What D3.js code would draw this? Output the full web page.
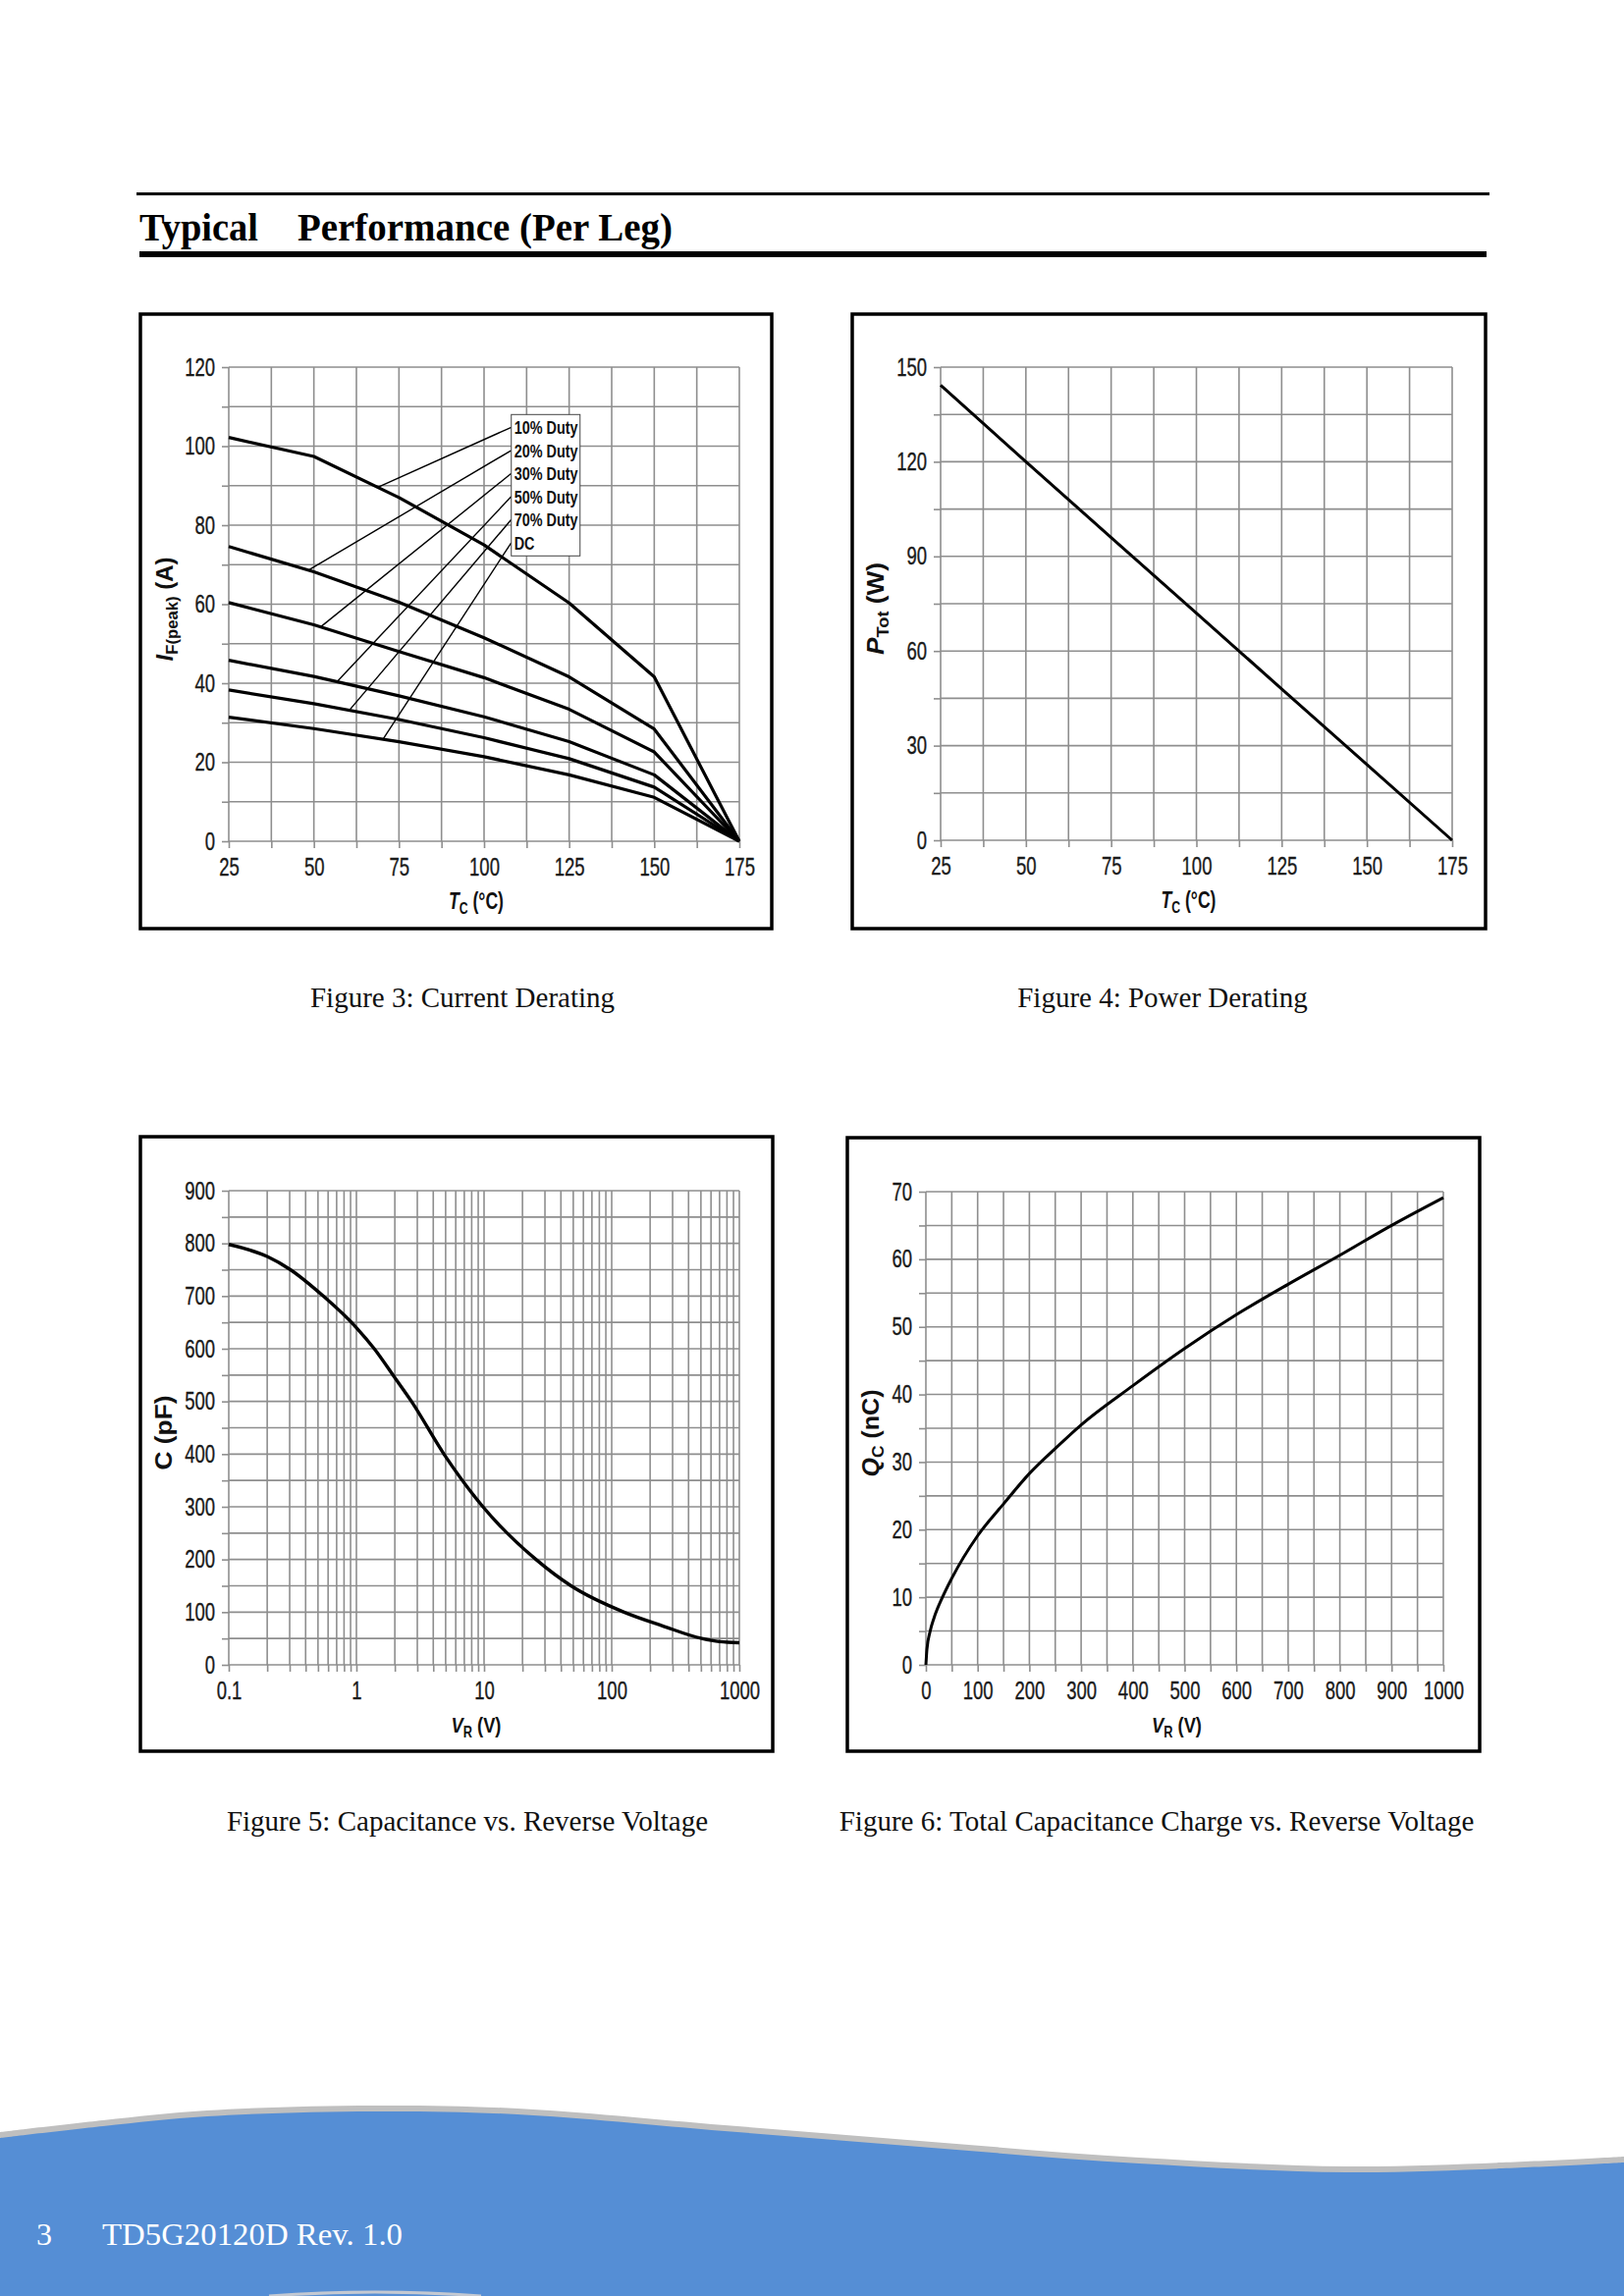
<!DOCTYPE html>
<html><head><meta charset="utf-8">
<script src="https://cdn.jsdelivr.net/npm/d3@7"></script>
<style>body{margin:0;background:#fff}svg{display:block}</style>
</head><body><div id="page"></div>
<script>
// ---------------- DATA ----------------
// Figure 3: Current Derating
const fig3Temp = [25, 50, 75, 100, 125, 150, 175];
const fig3SeriesNames = ["10% Duty", "20% Duty", "30% Duty", "50% Duty", "70% Duty", "DC"];
const fig3Duty10 = [102.2, 97.4, 87.0, 75.0, 60.3, 41.6, 0];
const fig3Duty20 = [74.6, 68.2, 60.5, 51.5, 41.6, 28.4, 0];
const fig3Duty30 = [60.4, 54.8, 48.0, 41.4, 33.4, 22.6, 0];
const fig3Duty50 = [45.8, 41.7, 36.8, 31.5, 25.2, 16.8, 0];
const fig3Duty70 = [38.3, 34.8, 30.8, 26.2, 20.9, 13.7, 0];
const fig3DC     = [31.4, 28.5, 25.2, 21.4, 16.8, 11.1, 0];
const fig3LeaderTemp = [68.8, 48.4, 52.0, 56.8, 60.4, 70.3];
const fig3GridX = [25, 37.5, 50, 62.5, 75, 87.5, 100, 112.5, 125, 137.5, 150, 162.5, 175];
const fig3GridY = [0, 10, 20, 30, 40, 50, 60, 70, 80, 90, 100, 110, 120];
const fig3XTicks = [25, 50, 75, 100, 125, 150, 175];
const fig3YTicks = [0, 20, 40, 60, 80, 100, 120];

// Figure 4: Power Derating
const fig4Temp = [25, 50, 75, 100, 125, 150, 175];
const fig4Ptot = [144.3, 120, 96, 72, 48, 24, 0];
const fig4GridX = [25, 37.5, 50, 62.5, 75, 87.5, 100, 112.5, 125, 137.5, 150, 162.5, 175];
const fig4GridY = [0, 15, 30, 45, 60, 75, 90, 105, 120, 135, 150];
const fig4XTicks = [25, 50, 75, 100, 125, 150, 175];
const fig4YTicks = [0, 30, 60, 90, 120, 150];

// Figure 5: Capacitance vs Reverse Voltage
const fig5Voltage = [0.1, 0.2, 0.3, 0.55, 1, 1.38, 2, 2.7, 4.85, 9.8, 25.5, 48, 125, 250, 507, 700, 1000];
const fig5Cap     = [798, 775, 751, 700, 640, 600, 545, 500, 400, 300, 200, 150, 100, 74, 50, 44, 42];
const fig5GridX = [0.1,0.2,0.3,0.4,0.5,0.6,0.7,0.8,0.9,1,2,3,4,5,6,7,8,9,10,20,30,40,50,60,70,80,90,100,200,300,400,500,600,700,800,900,1000];
const fig5GridY = [0,50,100,150,200,250,300,350,400,450,500,550,600,650,700,750,800,850,900];
const fig5XTicks = [0.1, 1, 10, 100, 1000];
const fig5YTicks = [0, 100, 200, 300, 400, 500, 600, 700, 800, 900];

// Figure 6: Total Capacitance Charge vs Reverse Voltage
const fig6Voltage = [0, 2, 8, 16, 32, 50, 100, 150, 200, 250, 300, 400, 500, 600, 700, 800, 900, 1000];
const fig6Charge  = [0, 2.3, 4.9, 7.0, 10, 12.8, 19.1, 23.8, 28.3, 32.0, 35.5, 41.3, 46.8, 51.8, 56.3, 60.6, 65.0, 69.1];
const fig6GridX = [0,50,100,150,200,250,300,350,400,450,500,550,600,650,700,750,800,850,900,950,1000];
const fig6GridY = [0,5,10,15,20,25,30,35,40,45,50,55,60,65,70];
const fig6XTicks = [0,100,200,300,400,500,600,700,800,900,1000];
const fig6YTicks = [0,10,20,30,40,50,60,70];

const captions = ["Figure 3: Current Derating", "Figure 4: Power Derating",
  "Figure 5: Capacitance vs. Reverse Voltage", "Figure 6: Total Capacitance Charge vs. Reverse Voltage"];

// ---------------- DRAW ----------------
const W = 1654, H = 2339;
const SANS = '"Liberation Sans",Arial,sans-serif';
const SERIF = '"Liberation Serif","Times New Roman",serif';
const GRID = "#8e8e8e";
const NARROW = 0.74;

const svg = d3.select("#page").append("svg").attr("width", W).attr("height", H).attr("viewBox", `0 0 ${W} ${H}`);
svg.append("rect").attr("width", W).attr("height", H).attr("fill", "#fff");

function narrow(sel, k) {
  sel.each(function () {
    const w = this.getComputedTextLength();
    if (w > 0) d3.select(this).attr("textLength", w * k).attr("lengthAdjust", "spacingAndGlyphs");
  });
}

// Header
svg.append("rect").attr("x", 139).attr("y", 196).attr("width", 1378).attr("height", 3).attr("fill", "#000");
svg.append("text").attr("x", 142).attr("y", 245).attr("font-family", SERIF).attr("font-weight", "bold")
  .attr("font-size", 39).attr("textLength", 121).attr("lengthAdjust", "spacingAndGlyphs").text("Typical");
svg.append("text").attr("x", 303).attr("y", 245).attr("font-family", SERIF).attr("font-weight", "bold")
  .attr("font-size", 39).attr("textLength", 382).attr("lengthAdjust", "spacingAndGlyphs").text("Performance (Per Leg)");
svg.append("rect").attr("x", 142).attr("y", 256).attr("width", 1372).attr("height", 6).attr("fill", "#000");

function titleText(g, parts, x, y, rotate, targetLen) {
  const t = g.append("text").attr("font-family", SANS).attr("font-weight", "bold").attr("font-size", 23)
    .attr("fill", "#111").attr("text-anchor", "middle");
  let shifted = 0;
  parts.forEach(p => {
    const s = t.append("tspan").text(p.t);
    if (p.italic) s.attr("font-style", "italic");
    if (p.sub) { s.attr("font-size", 16).attr("dy", 5); shifted = 5; }
    else if (shifted) { s.attr("dy", -shifted); shifted = 0; }
  });
  const w = t.node().getBBox().width;
  const sx = w > 0 ? targetLen / w : 1;
  t.attr("transform", `translate(${x},${y})` + (rotate ? " rotate(-90)" : "") + ` scale(${sx},1)`);
}

function panel(cfg) {
  const g = svg.append("g");
  const x = cfg.x, y = cfg.y;
  const [x0, x1] = x.range();
  const [yb, yt] = y.range();
  g.append("g").selectAll("line").data(cfg.gridX).join("line")
    .attr("x1", d => x(d)).attr("x2", d => x(d)).attr("y1", yt).attr("y2", yb)
    .attr("stroke", GRID).attr("stroke-width", 1.6);
  g.append("g").selectAll("line").data(cfg.gridY).join("line")
    .attr("x1", x0).attr("x2", x1).attr("y1", d => y(d)).attr("y2", d => y(d))
    .attr("stroke", GRID).attr("stroke-width", 1.6);
  const xa = d3.axisBottom(x).tickValues(cfg.gridX).tickSize(7).tickPadding(10)
    .tickFormat(d => cfg.xTicks.includes(d) ? String(d) : "");
  const ya = d3.axisLeft(y).tickValues(cfg.gridY).tickSize(7).tickPadding(7)
    .tickFormat(d => cfg.yTicks.includes(d) ? String(d) : "");
  [g.append("g").attr("transform", `translate(0,${yb})`).call(xa),
   g.append("g").attr("transform", `translate(${x0},0)`).call(ya)].forEach(a => {
    a.select(".domain").remove();
    a.selectAll(".tick line").attr("stroke", GRID).attr("stroke-width", 1.6);
    a.selectAll(".tick text").attr("font-family", SANS).attr("font-size", 25).attr("fill", "#1a1a1a")
      .attr("stroke", "#1a1a1a").attr("stroke-width", 0.35)
      .call(narrow, NARROW);
  });
  titleText(g, cfg.xTitle, (x0 + x1) / 2 - 8, yb + 69, false, cfg.xTitleLen);
  titleText(g, cfg.yTitle, cfg.yTitleX, (yt + yb) / 2 + 5, true, cfg.yTitleLen);
  const f = cfg.frame;
  g.append("rect").attr("x", f[0]).attr("y", f[1]).attr("width", f[2] - f[0]).attr("height", f[3] - f[1])
    .attr("fill", "none").attr("stroke", "#000").attr("stroke-width", 3.5);
  svg.append("text").attr("x", cfg.caption[1]).attr("y", cfg.caption[2]).attr("text-anchor", "middle")
    .attr("font-family", SERIF).attr("font-size", 29).attr("fill", "#111").text(cfg.caption[0]);
  return g;
}

// ---- Figure 3 ----
{
  const x = d3.scaleLinear().domain([25, 175]).range([233, 753]);
  const y = d3.scaleLinear().domain([0, 120]).range([857, 374]);
  const g = panel({ x, y, gridX: fig3GridX, gridY: fig3GridY, xTicks: fig3XTicks, yTicks: fig3YTicks,
    frame: [143, 320, 786, 946],
    xTitle: [{t: "T", italic: true}, {t: "C", sub: true}, {t: " (°C)"}], xTitleLen: 56,
    yTitle: [{t: "I", italic: true}, {t: "F(peak)", sub: true}, {t: " (A)"}], yTitleX: 176, yTitleLen: 106,
    caption: [captions[0], 471, 1026] });
  const series = [fig3Duty10, fig3Duty20, fig3Duty30, fig3Duty50, fig3Duty70, fig3DC];
  const boxL = x(108), boxT = y(108), rowH = 23.5;
  series.forEach((s, i) => {
    const interp = d3.scaleLinear().domain(fig3Temp).range(s);
    const tT = fig3LeaderTemp[i];
    g.append("line").attr("x1", boxL).attr("y1", boxT + 20 + i * rowH - 7)
      .attr("x2", x(tT)).attr("y2", y(interp(tT)))
      .attr("stroke", "#000").attr("stroke-width", 1.4);
  });
  const line = d3.line().x((d, i) => x(fig3Temp[i])).y(d => y(d));
  g.append("g").selectAll("path").data(series).join("path")
    .attr("d", d => line(d)).attr("fill", "none").attr("stroke", "#000")
    .attr("stroke-width", 3.2).attr("stroke-linejoin", "round");
  const lg = g.append("g");
  lg.append("rect").attr("x", boxL).attr("y", boxT).attr("width", x(128.2) - boxL).attr("height", 144)
    .attr("fill", "#fff").attr("stroke", "#444").attr("stroke-width", 1);
  lg.selectAll("text").data(fig3SeriesNames).join("text")
    .attr("x", boxL + 3).attr("y", (d, i) => boxT + 20 + i * rowH)
    .attr("font-family", SANS).attr("font-weight", "bold").attr("font-size", 18).attr("fill", "#111")
    .text(d => d).call(narrow, 0.8);
}

// ---- Figure 4 ----
{
  const x = d3.scaleLinear().domain([25, 175]).range([958, 1479]);
  const y = d3.scaleLinear().domain([0, 150]).range([856, 374]);
  const g = panel({ x, y, gridX: fig4GridX, gridY: fig4GridY, xTicks: fig4XTicks, yTicks: fig4YTicks,
    frame: [868, 320, 1513, 946],
    xTitle: [{t: "T", italic: true}, {t: "C", sub: true}, {t: " (°C)"}], xTitleLen: 56,
    yTitle: [{t: "P", italic: true}, {t: "Tot", sub: true}, {t: " (W)"}], yTitleX: 900, yTitleLen: 94,
    caption: [captions[1], 1184, 1026] });
  const line = d3.line().x((d, i) => x(fig4Temp[i])).y(d => y(d));
  g.append("path").attr("d", line(fig4Ptot)).attr("fill", "none").attr("stroke", "#000").attr("stroke-width", 3);
}

// ---- Figure 5 ----
{
  const x = d3.scaleLog().domain([0.1, 1000]).range([233, 753]);
  const y = d3.scaleLinear().domain([0, 900]).range([1696, 1213]);
  const g = panel({ x, y, gridX: fig5GridX, gridY: fig5GridY, xTicks: fig5XTicks, yTicks: fig5YTicks,
    frame: [143, 1158, 787, 1784],
    xTitle: [{t: "V", italic: true}, {t: "R", sub: true}, {t: " (V)"}], xTitleLen: 51,
    yTitle: [{t: "C (pF)"}], yTitleX: 175, yTitleLen: 76,
    caption: [captions[2], 476, 1865] });
  const line = d3.line().x((d, i) => x(fig5Voltage[i])).y(d => y(d)).curve(d3.curveMonotoneX);
  g.append("path").attr("d", line(fig5Cap)).attr("fill", "none").attr("stroke", "#000").attr("stroke-width", 3.4);
}

// ---- Figure 6 ----
{
  const x = d3.scaleLinear().domain([0, 1000]).range([943, 1470]);
  const y = d3.scaleLinear().domain([0, 70]).range([1696, 1214]);
  const g = panel({ x, y, gridX: fig6GridX, gridY: fig6GridY, xTicks: fig6XTicks, yTicks: fig6YTicks,
    frame: [863, 1159, 1507, 1784],
    xTitle: [{t: "V", italic: true}, {t: "R", sub: true}, {t: " (V)"}], xTitleLen: 51,
    yTitle: [{t: "Q", italic: true}, {t: "C", sub: true}, {t: " (nC)"}], yTitleX: 895, yTitleLen: 89,
    caption: [captions[3], 1178, 1865] });
  const line = d3.line().x((d, i) => x(fig6Voltage[i])).y(d => y(d)).curve(d3.curveMonotoneX);
  g.append("path").attr("d", line(fig6Charge)).attr("fill", "none").attr("stroke", "#000").attr("stroke-width", 3);
}

// ---------------- FOOTER ----------------
const waveTop = [[0, 2172], [105, 2160], [211, 2150], [380, 2145], [527, 2148], [738, 2165],
  [949, 2182], [1160, 2198], [1371, 2207], [1530, 2203], [1654, 2197]];
const wave = d3.line().curve(d3.curveCatmullRom);
const waveArea = (off) => wave(waveTop.map(p => [p[0], p[1] + off])) + `L${W},${H}L0,${H}Z`;
svg.append("path").attr("d", waveArea(0)).attr("fill", "#bfbfbf");
svg.append("path").attr("d", waveArea(6)).attr("fill", "#558ed5");
svg.append("path").attr("d", "M274,2339 Q382,2331 490,2339").attr("fill", "none").attr("stroke", "#c4c9d2").attr("stroke-width", 3);
svg.append("text").attr("x", 37).attr("y", 2287).attr("font-family", SERIF).attr("font-size", 32)
  .attr("fill", "#fff").text("3");
svg.append("text").attr("x", 104).attr("y", 2287).attr("font-family", SERIF).attr("font-size", 32)
  .attr("fill", "#fff").attr("textLength", 306).attr("lengthAdjust", "spacingAndGlyphs").text("TD5G20120D Rev. 1.0");
</script>
</body></html>
